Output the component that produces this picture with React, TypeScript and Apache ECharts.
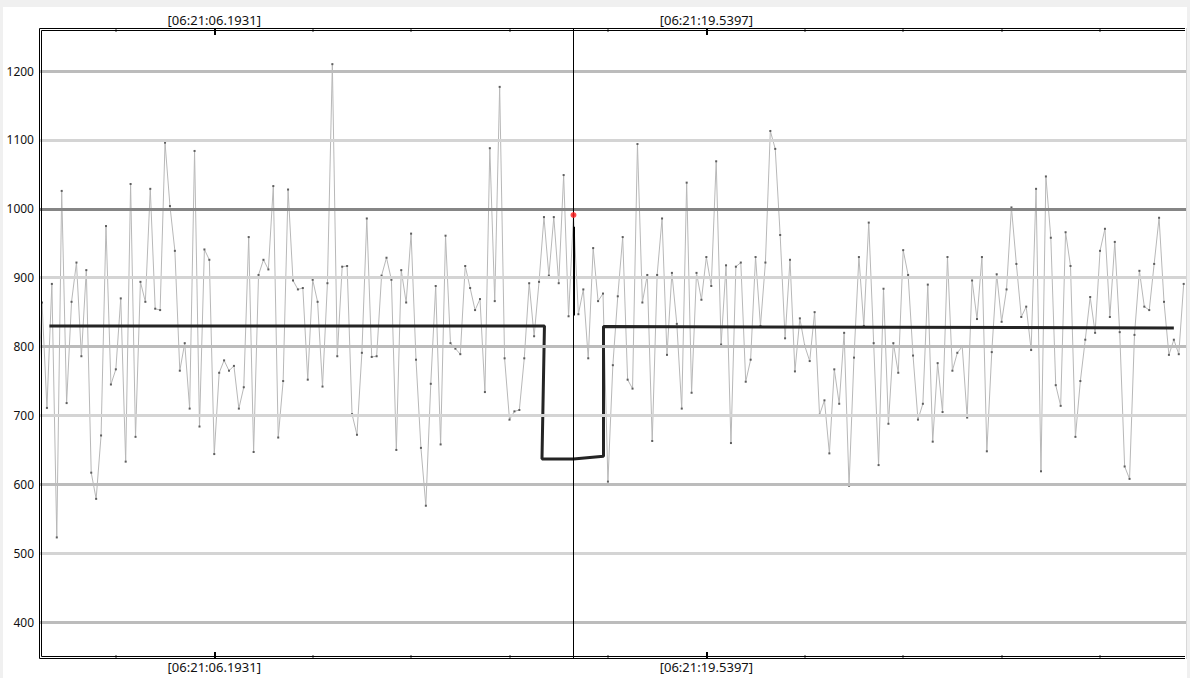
import React, { useEffect, useRef } from "react";
import * as echarts from "echarts";

// sample values, one per sample index starting at sampleStart
const sampleStart = -1;
const samples = [
  700,
  864, 711, 891, 523, 1026, 718, 865, 922, 786, 911,
  617, 579, 671, 975, 745, 767, 870, 633, 1036, 669,
  894, 865, 1029, 855, 853, 1096, 1004, 939, 765, 805,
  710, 1084, 684, 941, 926, 644, 762, 780, 765, 772,
  710, 741, 959, 647, 904, 926, 912, 1033, 668, 750,
  1028, 896, 883, 885, 752, 897, 865, 742,
  892, 1210, 786, 916, 917, 702, 672, 791, 986, 785,
  786, 903, 929, 897, 650, 911, 864, 964, 781, 653,
  569, 746, 888, 658, 961, 805, 797, 789, 917, 885,
  853, 869, 734, 1088, 866, 1177, 783, 694, 706, 708,
  783, 892, 815, 894, 988, 903, 988, 892, 1049, 844,
  991, 847, 883, 783, 943, 866, 877, 604,
  773, 873, 959, 752, 739, 1094, 864, 904, 663, 904,
  986, 788, 907, 833, 710, 1038, 733, 907, 868, 930,
  888, 1069, 803, 918, 660, 916, 922, 749, 781, 930,
  830, 922, 1113, 1087, 962, 812, 926, 764, 841, 801,
  779, 850, 701, 722, 645, 767, 717, 820, 598, 784,
  930, 830, 980, 805, 628, 884, 688, 805,
  762, 940, 904, 787, 694, 717, 890, 662, 776, 705,
  930, 765, 791, 800, 697, 896, 840, 930, 648, 792,
  905, 836, 883, 1002, 920, 843, 858, 795, 1029, 619,
  1047, 958, 744, 714, 966, 917, 669, 750, 810, 872,
  820, 939, 971, 843, 952, 821, 626, 608, 817, 910,
  858, 853, 920, 987, 865, 788, 810, 789, 891,
];

// running mean (step) line
const meanIdx = [1.5, 102.1, 101.6, 108, 114.1, 114.1, 230];
const meanVal = [830, 830, 637, 637, 641, 829, 827];

// selected sample (cursor)
const cursorIdx = 108;
const cursorVal = 991;
const cursorBarTop = 974;
const cursorBarBottom = 845;

// axes
const xMin = -0.41;
const xMax = 232.47;
const yMin = 348;
const yMax = 1261;
const yTicks = [400, 500, 600, 700, 800, 900, 1000, 1100, 1200];
const gridColors = ["#bcbcbc", "#d4d4d4", "#bcbcbc", "#d4d4d4", "#bcbcbc", "#d4d4d4", "#858585", "#d4d4d4", "#bcbcbc"];
const xMajor = [35, 135];
const xMajorLabels = ["[06:21:06.1931]", "[06:21:19.5397]"];
const xMinor = [15, 55, 75, 95, 115, 155, 175, 195, 215];

const FONT = "Noto Sans";

function makeXAxis(position: "top" | "bottom", major: boolean) {
  return {
    type: "value",
    position,
    min: xMin,
    max: xMax,
    axisLine: { show: false },
    splitLine: { show: false },
    axisTick: {
      show: true,
      inside: true,
      customValues: major ? xMajor : xMinor,
      length: major ? 6 : 3,
      lineStyle: { color: major ? "#000000" : "#9a9a9a", width: 2 },
    },
    axisLabel: major
      ? {
          show: true,
          customValues: xMajor,
          fontFamily: FONT,
          fontSize: 13,
          color: "#111",
          margin: position === "top" ? 3 : 2,
          formatter: (v: number) => {
            const k = xMajor.indexOf(Math.round(v));
            return k >= 0 ? xMajorLabels[k] : "";
          },
        }
      : { show: false },
  };
}

export default function App() {
  const ref = useRef<HTMLDivElement>(null);
  useEffect(() => {
    if (!ref.current) return;
    const chart = echarts.init(ref.current, null, { renderer: "svg" });
    const data = samples.map((v, i) => [sampleStart + i, v]);
    const mean = meanIdx.map((x, i) => [x, meanVal[i]]);
    chart.setOption({
      animation: false,
      backgroundColor: "#ffffff",
      textStyle: { fontFamily: FONT },
      grid: { left: 40, right: 4, top: 29, bottom: 20 },
      xAxis: [
        makeXAxis("bottom", true),
        makeXAxis("top", true),
        makeXAxis("bottom", false),
        makeXAxis("top", false),
      ],
      yAxis: {
        type: "value",
        min: yMin,
        max: yMax,
        axisLine: { show: false },
        axisTick: { show: false },
        splitLine: { show: false },
        axisLabel: {
          customValues: yTicks,
          fontFamily: FONT,
          fontSize: 12,
          color: "#111",
          margin: 6,
          formatter: (v: number) => String(Math.round(v)),
        },
      },
      graphic: [
        { type: "rect", shape: { x: 0, y: 0, width: 1190, height: 7 }, style: { fill: "#f0f0f0" }, z: 100 },
        { type: "rect", shape: { x: 0, y: 0, width: 3, height: 678 }, style: { fill: "#f0f0f0" }, z: 100 },
        { type: "rect", shape: { x: 1187, y: 0, width: 3, height: 678 }, style: { fill: "#f0f0f0" }, z: 100 },
        { type: "line", shape: { x1: 1186.5, y1: 28, x2: 1186.5, y2: 659 }, style: { stroke: "#d8d8d8", lineWidth: 1 }, z: 100 },
        {
          type: "polyline",
          shape: { points: [[1185, 28.5], [39.5, 28.5], [39.5, 658.5], [1185, 658.5]] },
          style: { stroke: "#000", lineWidth: 1, fill: null },
          z: 100,
        },
        {
          type: "polyline",
          shape: { points: [[1185, 30.5], [41.5, 30.5], [41.5, 656.5], [1185, 656.5]] },
          style: { stroke: "#000", lineWidth: 1, fill: null },
          z: 100,
        },
      ],
      series: [
        {
          name: "grid",
          type: "line",
          data: [],
          z: 1,
          silent: true,
          markLine: {
            silent: true,
            symbol: ["none", "none"],
            label: { show: false },
            data: yTicks.map((v, i) => ({
              yAxis: v,
              lineStyle: { color: gridColors[i], width: 3, type: "solid" },
            })),
          },
        },
        {
          name: "samples",
          type: "line",
          data,
          z: 3,
          silent: true,
          symbol: "rect",
          symbolSize: 2,
          showSymbol: true,
          itemStyle: { color: "#5e5e5e" },
          lineStyle: { color: "#b8b8b8", width: 1 },
        },
        {
          name: "mean",
          type: "line",
          data: mean,
          z: 4,
          silent: true,
          symbol: "none",
          lineStyle: { color: "#242424", width: 3 },
          markLine: {
            silent: true,
            symbol: ["none", "none"],
            label: { show: false },
            data: [
              { xAxis: cursorIdx, lineStyle: { color: "#000", width: 1, type: "solid" } },
              [
                { coord: [cursorIdx, cursorBarTop], lineStyle: { color: "#000", width: 2, type: "solid" } },
                { coord: [cursorIdx, cursorBarBottom] },
              ],
            ],
          },
        },
        {
          name: "cursor",
          type: "scatter",
          data: [[cursorIdx, cursorVal]],
          z: 5,
          silent: true,
          symbolSize: 6,
          itemStyle: { color: "#ff1c1c" },
        },
      ],
    });
    return () => chart.dispose();
  }, []);
  return (
    <div
      ref={ref}
      style={{ position: "fixed", left: 0, top: 0, width: 1190, height: 678 }}
    />
  );
}
